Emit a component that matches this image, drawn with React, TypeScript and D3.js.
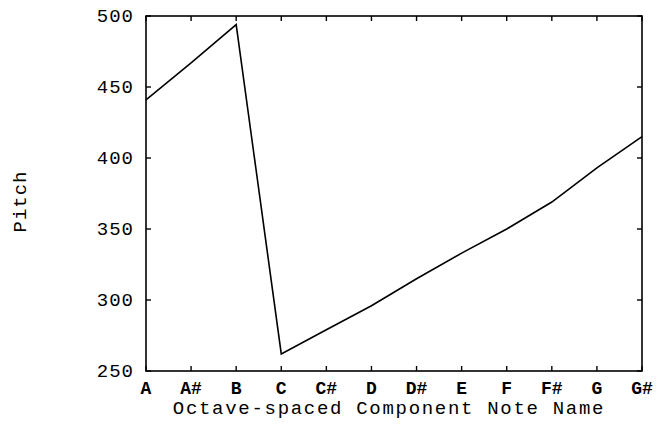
import React from "react";
import * as d3 from "d3";

// Component note names along the octave, and the pitch heard for each
const notes = ["A", "A#", "B", "C", "C#", "D", "D#", "E", "F", "F#", "G", "G#"];
const pitch = [441, 467, 494, 262, 279, 296, 315, 333, 350, 369, 393, 415];
const yTicks = [250, 300, 350, 400, 450, 500];

const W = 657;
const H = 425;
const margin = { left: 146, right: 15, top: 16, bottom: 54 };
const FONT = "'Liberation Mono', 'Courier New', monospace";

export default function App() {
  const x = d3
    .scalePoint<string>()
    .domain(notes)
    .range([margin.left, W - margin.right]);
  const y = d3
    .scaleLinear()
    .domain([250, 500])
    .range([H - margin.bottom, margin.top]);

  const line = d3
    .line<number>()
    .x((_, i) => x(notes[i]) as number)
    .y((d) => y(d));

  const x0 = margin.left;
  const x1 = W - margin.right;
  const y0 = H - margin.bottom;
  const y1 = margin.top;
  const tick = 5;

  return (
    <svg
      width={W}
      height={H}
      style={{ position: "absolute", left: 0, top: 0, background: "#fff" }}
    >
      {/* frame */}
      <rect
        x={x0}
        y={y1}
        width={x1 - x0}
        height={y0 - y1}
        fill="none"
        stroke="#000"
        strokeWidth={1.6}
      />
      {/* x ticks, bottom and top, pointing inward */}
      {notes.map((n) => (
        <g key={n}>
          <line x1={x(n)} x2={x(n)} y1={y0} y2={y0 - tick} stroke="#000" strokeWidth={1.4} />
          <line x1={x(n)} x2={x(n)} y1={y1} y2={y1 + tick} stroke="#000" strokeWidth={1.4} />
          <text
            x={x(n)}
            y={394}
            textAnchor="middle"
            fontFamily={FONT}
            fontSize={18}
            fontWeight="bold"
            fill="#000"
          >
            {n}
          </text>
        </g>
      ))}
      {/* y ticks, left and right */}
      {yTicks.map((t) => (
        <g key={t}>
          <line x1={x0} x2={x0 + tick} y1={y(t)} y2={y(t)} stroke="#000" strokeWidth={1.4} />
          <line x1={x1} x2={x1 - tick} y1={y(t)} y2={y(t)} stroke="#000" strokeWidth={1.4} />
          <text
            x={134}
            y={y(t) + 6}
            textAnchor="end"
            fontFamily={FONT}
            fontSize={19}
            letterSpacing={1}
            fill="#000"
          >
            {t}
          </text>
        </g>
      ))}
      {/* pitch curve */}
      <path d={line(pitch) ?? ""} fill="none" stroke="#000" strokeWidth={1.6} />
      {/* axis titles */}
      <text
        x={389}
        y={414}
        textAnchor="middle"
        fontFamily={FONT}
        fontSize={19}
        letterSpacing={1.7}
        fill="#000"
      >
        Octave-spaced Component Note Name
      </text>
      <text
        transform={`translate(26,${(y0 + y1) / 2 + 8}) rotate(-90)`}
        textAnchor="middle"
        fontFamily={FONT}
        fontSize={19}
        letterSpacing={1}
        fill="#000"
      >
        Pitch
      </text>
    </svg>
  );
}
